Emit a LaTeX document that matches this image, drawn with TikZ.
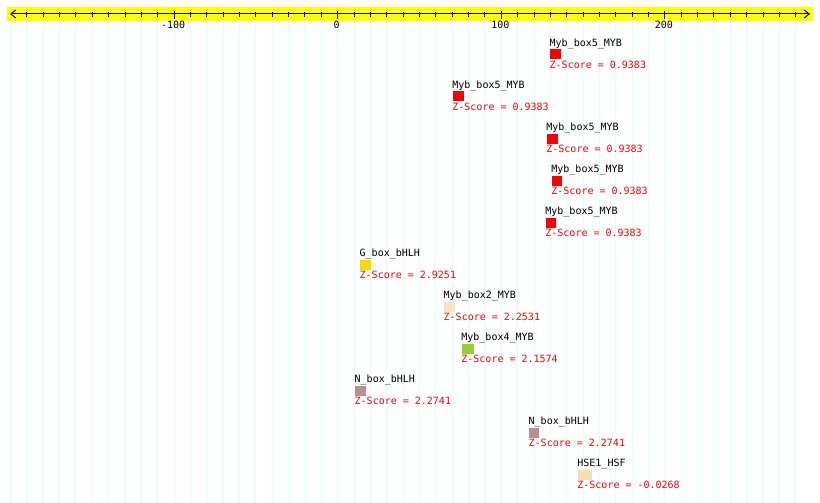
\documentclass[tikz,border=0pt]{standalone}
\usepackage{fontspec}
\newfontfamily\pixfont{DejaVu Sans Mono}
\usetikzlibrary{arrows.meta}
\definecolor{gridcyan}{HTML}{DDFFFF}
\definecolor{axisyellow}{HTML}{FFFF00}
\definecolor{zred}{HTML}{FF0000}
\definecolor{boxgold}{HTML}{FFD700}
\definecolor{boxbisque}{HTML}{FFE4C4}
\definecolor{boxgreen}{HTML}{9ACD32}
\definecolor{boxrosy}{HTML}{BC8F8F}
\definecolor{boxwheat}{HTML}{F5DEB3}
\begin{document}
\begin{tikzpicture}[x=1pt,y=-1pt,
  lbl/.style={anchor=base west,inner sep=0pt,font=\pixfont\fontsize{10}{12}\selectfont},
  zlbl/.style={lbl,text=zred},
  ticklbl/.style={anchor=base,inner sep=0pt,font=\pixfont\fontsize{10}{12}\selectfont},
  site/.style={draw=none,inner sep=0pt,minimum height=10pt,anchor=north west},
  gridline/.style={draw=gridcyan,line width=1pt},
  axisline/.style={draw=black,line width=1pt}]
\useasboundingbox (0,0) rectangle (820,503);
\fill[white] (0,0) rectangle (820,503);
% grid
\foreach \v in {-200,-190,...,280}
  \draw[gridline] ({337.7+1.636*\v},21) -- ({337.7+1.636*\v},503);
% axis band
\fill[axisyellow] (7,7) rectangle (813,21);
\coordinate (axL) at (10,14);
\coordinate (axR) at (810,14);
\draw[axisline,{Straight Barb[length=5pt,width=8pt]}-{Straight Barb[length=5pt,width=8pt]}] (axL) -- (axR);
\foreach \v in {-190,-180,...,280}
  \draw[axisline] ({337.7+1.636*\v},12.3) -- ++(0,4.4);
\foreach \v/\t in {-100/-100,0/0,100/100,200/200} {
  \draw[axisline] ({337.7+1.636*\v},11) -- ++(0,8);
  \node[ticklbl] (tl\v) at ({336.7+1.636*\v},28.4) {\t};
}
% sites
\foreach \i/\x/\w/\c/\n/\z in {
  0/550/11/zred/Myb\_box5\_MYB/0.9383,
  1/452.7/11/zred/Myb\_box5\_MYB/0.9383,
  2/546.7/10.6/zred/Myb\_box5\_MYB/0.9383,
  3/551.7/10/zred/Myb\_box5\_MYB/0.9383,
  4/545.7/10.3/zred/Myb\_box5\_MYB/0.9383,
  5/360/11/boxgold/G\_box\_bHLH/2.9251,
  6/444/10.3/boxbisque/Myb\_box2\_MYB/2.2531,
  7/461.7/12.3/boxgreen/Myb\_box4\_MYB/2.1574,
  8/355/11/boxrosy/N\_box\_bHLH/2.2741,
  9/529/10/boxrosy/N\_box\_bHLH/2.2741,
  10/577.7/14/boxwheat/HSE1\_HSF/-0.0268} {
  \node[site,fill=\c,minimum width=\w pt] (site\i) at (\x,{49.3+42*\i}) {};
  \node[lbl] (name\i) at (\x-0.5,{46.5+42*\i}) {\n};
  \node[zlbl] (score\i) at (\x-0.5,{68.5+42*\i}) {Z-Score = \z};
}
\end{tikzpicture}
\end{document}
